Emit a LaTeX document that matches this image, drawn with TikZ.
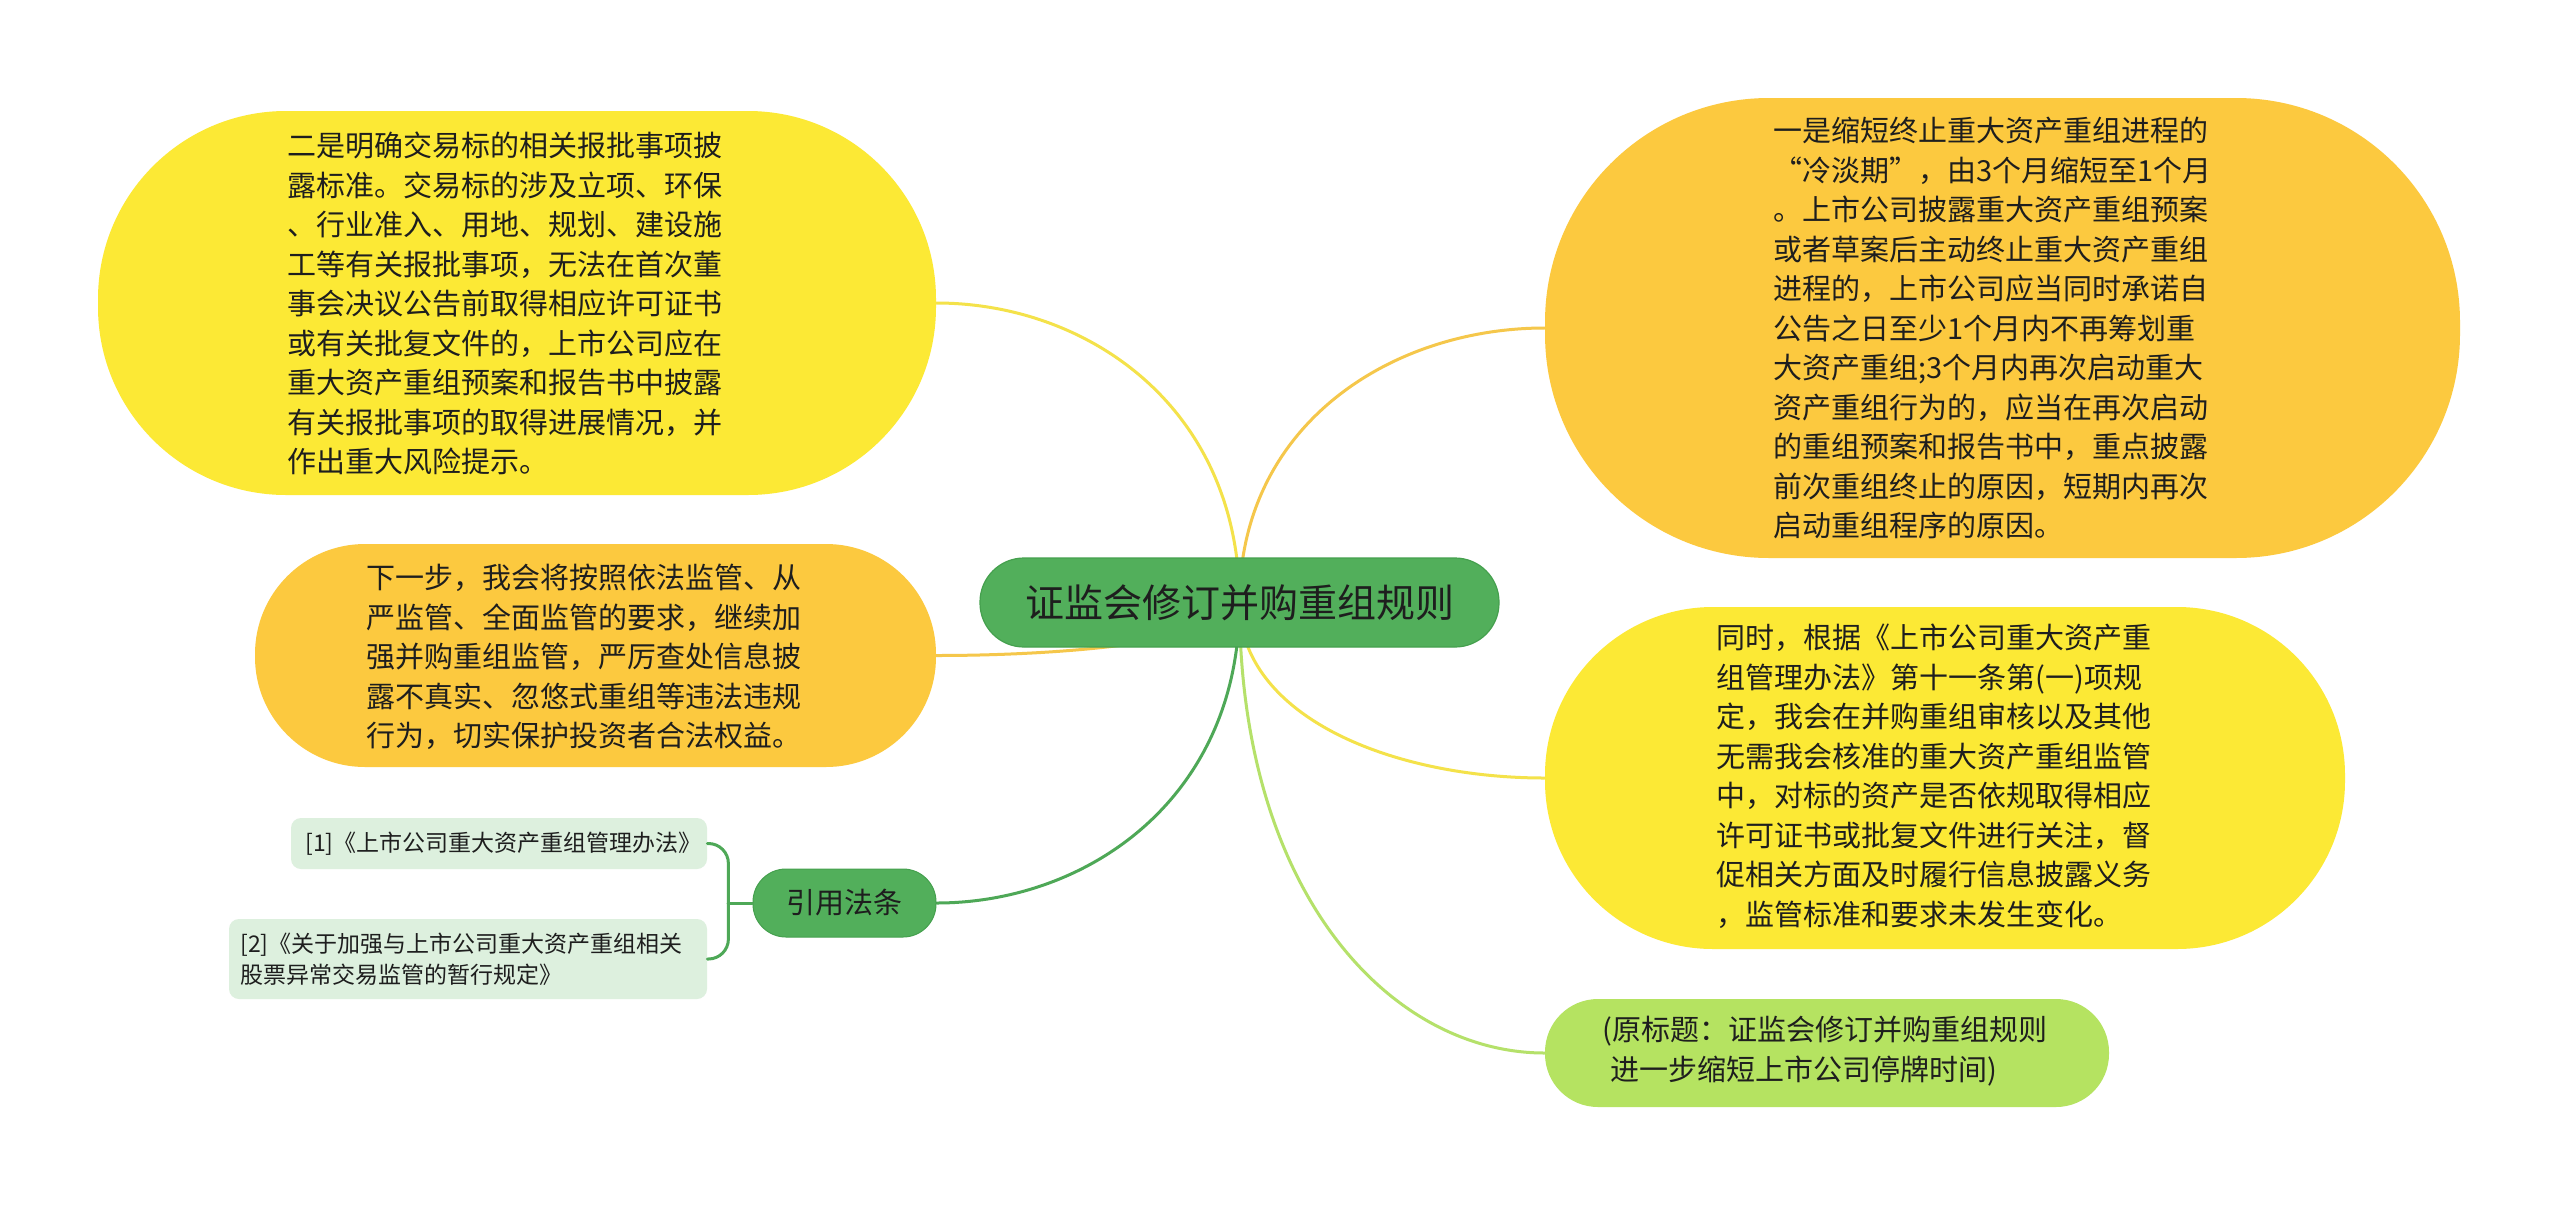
\documentclass[tikz,border=0pt]{standalone}
\usepackage{fontspec}
\newfontfamily\cjk{Noto Sans CJK SC}
\usetikzlibrary{backgrounds,calc}
\definecolor{cyel}{HTML}{FCE935}
\definecolor{corg}{HTML}{FCC93F}
\definecolor{clgr}{HTML}{B5E361}
\definecolor{cgrn}{HTML}{52AF5B}
\definecolor{cgrnd}{HTML}{45A04E}
\definecolor{cref}{HTML}{DDF0DE}
\definecolor{ctxt}{HTML}{1E1E1E}
\definecolor{lyel}{HTML}{F4E24A}
\definecolor{lorg}{HTML}{F5C74B}
\definecolor{llgr}{HTML}{B5E16A}
\definecolor{lgrn}{HTML}{4EA857}
\tikzset{
  shapebox/.style={rectangle, inner sep=0pt, draw=none},
  txt/.style={inner sep=0pt, align=left, anchor=west, text=ctxt,
    font=\cjk\fontsize{14.5}{19.75}\selectfont},
  reftxt/.style={inner sep=0pt, align=left, anchor=west, text=ctxt,
    font=\cjk\fontsize{11.5}{15.5}\selectfont},
  conn/.style={line width=1.5pt, line cap=round},
}
\newcommand{\mmcurve}[3]{%
  \draw[conn, #1] (#2) .. controls ($(#2)!0.65!(#2|-#3)$) and ($(#3)!0.5!(#2|-#3)$) .. (#3);}
\begin{document}
\begin{tikzpicture}[x=0.5pt,y=-0.5pt]
\useasboundingbox (0,0) rectangle (2560,1205);

% shapes
\node[shapebox, fill=cyel, rounded corners=94pt, minimum width=419pt, minimum height=192pt] (A) at (517,303) {};
\node[shapebox, fill=corg, rounded corners=112pt, minimum width=457.5pt, minimum height=230pt] (B) at (2002.5,328) {};
\node[shapebox, fill=corg, rounded corners=55pt, minimum width=340.5pt, minimum height=111.5pt] (C) at (595.5,655.5) {};
\node[shapebox, fill=cyel, rounded corners=84pt, minimum width=400pt, minimum height=171pt] (D) at (1945,778) {};
\node[shapebox, fill=clgr, rounded corners=26.5pt, minimum width=282pt, minimum height=54pt] (E) at (1827,1053) {};
\node[shapebox, fill=cgrn, draw=cgrnd, line width=0.6pt, rounded corners=22pt, minimum width=259.5pt, minimum height=44.5pt,
  text=ctxt, font=\cjk\fontsize{19.5}{24}\selectfont] (M) at (1239.5,602.5) {证监会修订并购重组规则};
\node[shapebox, fill=cgrn, draw=cgrnd, line width=0.5pt, rounded corners=16.5pt, minimum width=91.5pt, minimum height=34pt,
  text=ctxt, font=\cjk\fontsize{14.5}{18}\selectfont] (R) at (844.5,903) {引用法条};
\node[shapebox, fill=cref, rounded corners=5pt, minimum width=208pt, minimum height=25.5pt] (R1) at (499,843.5) {};
\node[shapebox, fill=cref, rounded corners=5pt, minimum width=239pt, minimum height=40pt] (R2) at (468,959) {};

% texts
\node[txt] (At) at (287,303.7) {二是明确交易标的相关报批事项披\\
露标准。交易标的涉及立项、环保\\
、行业准入、用地、规划、建设施\\
工等有关报批事项，无法在首次董\\
事会决议公告前取得相应许可证书\\
或有关批复文件的，上市公司应在\\
重大资产重组预案和报告书中披露\\
有关报批事项的取得进展情况，并\\
作出重大风险提示。};
\node[txt] (Bt) at (1773,328) {一是缩短终止重大资产重组进程的\\
“冷淡期”，由3个月缩短至1个月\\
。上市公司披露重大资产重组预案\\
或者草案后主动终止重大资产重组\\
进程的，上市公司应当同时承诺自\\
公告之日至少1个月内不再筹划重\\
大资产重组;3个月内再次启动重大\\
资产重组行为的，应当在再次启动\\
的重组预案和报告书中，重点披露\\
前次重组终止的原因，短期内再次\\
启动重组程序的原因。};
\node[txt] (Ct) at (366,657) {下一步，我会将按照依法监管、从\\
严监管、全面监管的要求，继续加\\
强并购重组监管，严厉查处信息披\\
露不真实、忽悠式重组等违法违规\\
行为，切实保护投资者合法权益。};
\node[txt] (Dt) at (1716,776) {同时，根据《上市公司重大资产重\\
组管理办法》第十一条第(一)项规\\
定，我会在并购重组审核以及其他\\
无需我会核准的重大资产重组监管\\
中，对标的资产是否依规取得相应\\
许可证书或批复文件进行关注，督\\
促相关方面及时履行信息披露义务\\
，监管标准和要求未发生变化。};
\node[txt] (Et) at (1602,1051) {(原标题：证监会修订并购重组规则\\
\hspace*{4pt}进一步缩短上市公司停牌时间)};
\node[reftxt] (R1t) at (305,843.5) {[1]《上市公司重大资产重组管理办法》};
\node[reftxt] (R2t) at (240,959) {[2]《关于加强与上市公司重大资产重组相关\\
股票异常交易监管的暂行规定》};

% connectors
\begin{scope}[on background layer]
\fill[white] (0,0) rectangle (2560,1205);
\mmcurve{lyel}{M.center}{A.east}
\mmcurve{lorg}{M.center}{B.west}
\mmcurve{lorg}{M.center}{C.east}
\mmcurve{lyel}{M.center}{D.west}
\mmcurve{llgr}{M.center}{E.west}
\mmcurve{lgrn}{M.center}{R.east}
\end{scope}
\coordinate (bx) at (728,903);
\draw[conn, lgrn] (R.west) -- (bx);
\draw[conn, lgrn, rounded corners=10pt] (R1.east) -- ($(R1.east)+(21,0)$) |- (R2.east);
\end{tikzpicture}
\end{document}
